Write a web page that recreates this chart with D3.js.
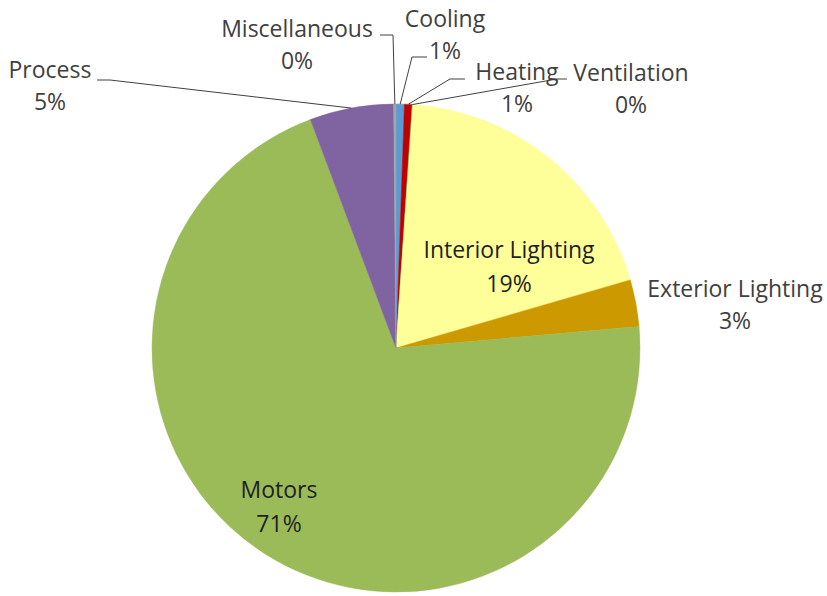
<!DOCTYPE html>
<html>
<head>
<meta charset="utf-8">
<script src="https://cdn.jsdelivr.net/npm/d3@7"></script>
<style>
  html, body { margin: 0; padding: 0; background: #ffffff; }
  svg { display: block; }
</style>
</head>
<body>
<svg id="chart" width="827" height="596"></svg>
<script>
// ---- data ----
const categories = ["Cooling", "Heating", "Ventilation", "Interior Lighting", "Exterior Lighting", "Motors", "Process", "Miscellaneous"];
const shares = [0.55, 0.5, 0.05, 19.4, 3.1, 70.7, 5.55, 0.15];
const percentLabels = ["1%", "1%", "0%", "19%", "3%", "71%", "5%", "0%"];

// ---- styling / layout (separate from data) ----
const colors = ["#5B9BD5", "#C00000", "#70AD47", "#FFFF99", "#CC9900", "#9BBB59", "#8064A2", "#A5A5A5"];
// label anchor (centre x, baseline of first line), whether inside, leader elbow
const labelLayout = [
  { x: 445, y: 27, inside: false, elbow: [[427, 57], [412, 57]] },
  { x: 517, y: 80, inside: false, elbow: [[465, 79], [450, 79]] },
  { x: 631, y: 81, inside: false, elbow: [[567, 79], [557, 79]] },
  { x: 509, y: 258, inside: true },
  { x: 735, y: 297, inside: false },
  { x: 279, y: 498, inside: true },
  { x: 50, y: 78, inside: false, elbow: [[97, 80], [110, 80]] },
  { x: 297, y: 37, inside: false, elbow: [[380, 35], [393, 35]] }
];
const lineGap = 32;

const svg = d3.select("#chart");
const cx = 396, cy = 348, R = 244;

const pie = d3.pie().sort(null).value(d => d.v);
const data = categories.map((c, i) => ({ name: c, v: shares[i], pct: percentLabels[i], i }));
const arcs = pie(data);
const arc = d3.arc().innerRadius(0).outerRadius(R);

const g = svg.append("g").attr("transform", `translate(${cx},${cy})`);
g.selectAll("path.slice")
  .data(arcs)
  .enter().append("path")
  .attr("class", "slice")
  .attr("d", arc)
  .attr("fill", d => colors[d.index])
  .attr("stroke", d => colors[d.index])
  .attr("stroke-width", 0.5);

// leader lines
const edgeArc = d3.arc().innerRadius(R).outerRadius(R);
arcs.forEach((a, i) => {
  const L = labelLayout[i];
  if (!L.elbow) return;
  const c = edgeArc.centroid(a);
  const pts = L.elbow.concat([[cx + c[0], cy + c[1]]]);
  svg.append("path")
    .attr("d", d3.line()(pts))
    .attr("fill", "none")
    .attr("stroke", "#404040")
    .attr("stroke-width", 1);
});

// labels
arcs.forEach((a, i) => {
  const L = labelLayout[i];
  const t = svg.append("text")
    .attr("text-anchor", "middle")
    .attr("font-family", "'Open Sans', Lato, sans-serif")
    .attr("font-size", 23)
    .attr("fill", L.inside ? "#1f1f1f" : "#404040");
  t.append("tspan").attr("x", L.x).attr("y", L.y).text(a.data.name);
  t.append("tspan").attr("x", L.x).attr("y", L.y + lineGap + (L.inside ? 2 : 0)).text(a.data.pct);
});
</script>
</body>
</html>
